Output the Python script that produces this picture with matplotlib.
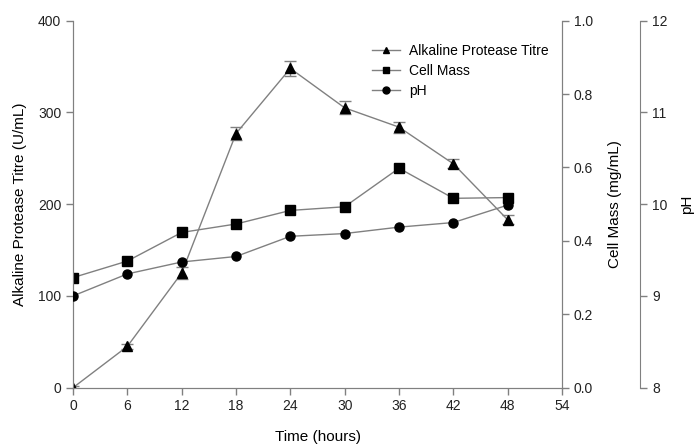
import matplotlib
matplotlib.use("Agg")
import matplotlib.pyplot as plt
from matplotlib.lines import Line2D

plt.rcParams['font.family'] = ['Liberation Sans', 'DejaVu Sans']

time = [0, 6, 12, 18, 24, 30, 36, 42, 48]
protease = [0, 45, 125, 277, 348, 305, 284, 244, 183]
protease_err = [2, 3, 6, 7, 8, 7, 6, 5, 5]
cell_mass = [0.300, 0.345, 0.423, 0.446, 0.483, 0.493, 0.598, 0.516, 0.518]
ph = [9.00, 9.24, 9.37, 9.43, 9.65, 9.68, 9.75, 9.80, 9.99]
labels = ['Alkaline Protease Titre', 'Cell Mass', 'pH']

grey = '#808080'
fig = plt.figure(figsize=(6.94, 4.47), dpi=100)
ax = fig.add_axes([0.1052, 0.1327, 0.7046, 0.8210])
ax2 = ax.twinx()
ax3 = ax.twinx()
ax3.spines['right'].set_position(('axes', 1.16))

for a in (ax, ax2, ax3):
    for s in a.spines.values():
        s.set_color(grey)
    a.tick_params(colors=grey, labelcolor='#222222', labelsize=10, length=5, width=1)
ax.spines['top'].set_visible(False)
ax2.spines['top'].set_visible(False)
ax3.spines['top'].set_visible(False)
ax3.spines['left'].set_visible(False)
ax3.spines['bottom'].set_visible(False)

ax.errorbar(time, protease, yerr=protease_err, color=grey, lw=1, marker='^',
            mfc='black', mec='black', ms=6.5, ecolor=grey, elinewidth=1, capsize=4,
            zorder=3)
ax2.plot(time, cell_mass, color=grey, lw=1, marker='s', mfc='black', mec='black', ms=6.5)
ax3.plot(time, ph, color=grey, lw=1, marker='o', mfc='black', mec='black', ms=6.5)

ax.set_xlim(0, 54)
ax.set_ylim(0, 400)
ax.set_xticks(range(0, 55, 6))
ax.set_yticks([0, 100, 200, 300, 400])
ax2.set_ylim(0, 1.0)
ax2.set_yticks([0.0, 0.2, 0.4, 0.6, 0.8, 1.0])
ax2.set_yticklabels(['0.0', '0.2', '0.4', '0.6', '0.8', '1.0'])
ax3.set_ylim(8, 12)
ax3.set_yticks([8, 9, 10, 11, 12])

ax.set_xlabel('Time (hours)', fontsize=11, labelpad=12)
ax.set_ylabel('Alkaline Protease Titre (U/mL)', fontsize=11, labelpad=8)
ax2.set_ylabel('Cell Mass (mg/mL)', fontsize=11, labelpad=11)
ax3.set_ylabel('pH', fontsize=11, labelpad=9)

handles = [Line2D([], [], color=grey, lw=1, marker=m, mfc='black', mec='black', ms=5)
           for m in ('^', 's', 'o')]
ax.legend(handles, labels, loc='upper left', bbox_to_anchor=(0.6, 0.952), frameon=False,
          fontsize=10, handlelength=2.0, handletextpad=0.7, labelspacing=0.42,
          borderaxespad=0)

fig.savefig('out.png', dpi=100)
